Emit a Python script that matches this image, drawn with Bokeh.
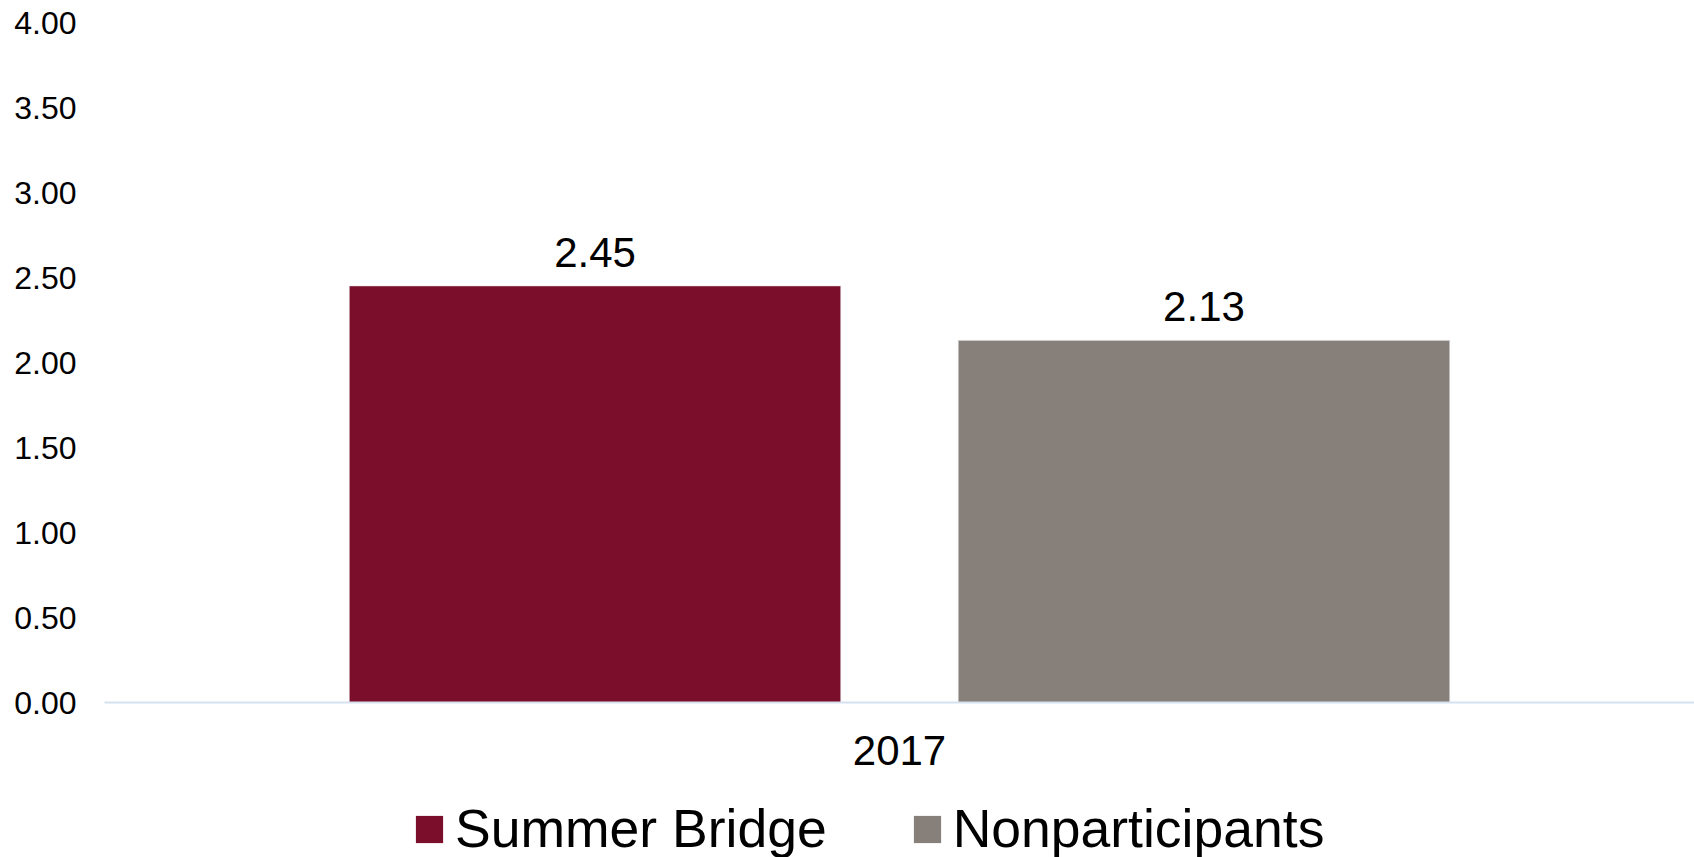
from bokeh.plotting import figure
from bokeh.layouts import column
from bokeh.models import ColumnDataSource, FactorRange, Range1d, FixedTicker, NumeralTickFormatter, Legend, LegendItem
from bokeh.transform import dodge
from bokeh.core.properties import value
from bokeh.embed import file_html
from bokeh.resources import INLINE

categories = ["2017"]
series_names = ["Summer Bridge", "Nonparticipants"]
summer_bridge = [2.45]
nonparticipants = [2.13]
y_ticks = [0.0, 0.5, 1.0, 1.5, 2.0, 2.5, 3.0, 3.5, 4.0]

colors = ["#7A0E2B", "#877F7A"]
FONT = "Liberation Sans"

src_sb = ColumnDataSource(dict(x=categories, y=summer_bridge, lab=[f"{v:.2f}" for v in summer_bridge]))
src_np = ColumnDataSource(dict(x=categories, y=nonparticipants, lab=[f"{v:.2f}" for v in nonparticipants]))

p = figure(width=1694, height=785, x_range=FactorRange(*categories), y_range=Range1d(0, 4),
           output_backend="svg", toolbar_location=None,
           min_border_left=104, min_border_top=22, min_border_right=0, min_border_bottom=83)
p.outline_line_color = None
p.xgrid.visible = False
p.ygrid.visible = False

off = 0.1915
bw = 0.309
r1 = p.vbar(x=dodge("x", -off, range=p.x_range), top="y", width=bw, source=src_sb,
            fill_color=colors[0], line_color="#d8d8d8", line_width=0.5)
r2 = p.vbar(x=dodge("x", off, range=p.x_range), top="y", width=bw, source=src_np,
            fill_color=colors[1], line_color="#d8d8d8", line_width=0.5)

for src, o in ((src_sb, -off), (src_np, off)):
    p.text(x=dodge("x", o, range=p.x_range), y="y", text="lab", source=src,
           text_align="center", text_baseline="alphabetic", y_offset=-34,
           text_font=value(FONT), text_font_size="42px", text_color="#000000")

# y axis
p.yaxis.ticker = FixedTicker(ticks=y_ticks)
p.yaxis.formatter = NumeralTickFormatter(format="0.00")
p.yaxis.axis_line_color = None
p.yaxis.major_tick_line_color = None
p.yaxis.minor_tick_line_color = None
p.yaxis.major_tick_out = 0
p.yaxis.major_label_standoff = 28
p.yaxis.major_label_text_font = FONT
p.yaxis.major_label_text_font_size = "32px"
p.yaxis.major_label_text_color = "#000000"

# x axis
p.xaxis.axis_line_color = "#D6E1F0"
p.xaxis.axis_line_width = 2
p.xaxis.major_tick_line_color = None
p.xaxis.minor_tick_line_color = None
p.xaxis.major_tick_out = 0
p.xaxis.major_label_standoff = 33
p.xaxis.major_label_text_font = FONT
p.xaxis.major_label_text_font_size = "42px"
p.xaxis.major_label_text_color = "#000000"

# legend strip (same series; its view range keeps the bars out of sight)
lf = figure(width=1694, height=72, x_range=FactorRange(*categories), y_range=Range1d(10, 11),
            output_backend="svg", toolbar_location=None,
            min_border_left=0, min_border_right=0, min_border_top=0, min_border_bottom=0)
lf.axis.visible = False
lf.grid.visible = False
lf.outline_line_color = None
l1 = lf.vbar(x="x", top="y", width=bw, source=src_sb, fill_color=colors[0], line_color=None)
l2 = lf.vbar(x="x", top="y", width=bw, source=src_np, fill_color=colors[1], line_color=None)

legend = Legend(items=[LegendItem(label=series_names[0], renderers=[l1]),
                       LegendItem(label=series_names[1], renderers=[l2])],
                orientation="horizontal", location=(308, -2),
                glyph_width=34, glyph_height=34, label_standoff=9, spacing=83,
                label_text_font=FONT, label_text_font_size="53.5px", label_text_color="#000000",
                border_line_color=None, background_fill_alpha=0, margin=0, padding=0)
lf.add_layout(legend, "center")

open("out.html", "w").write(file_html(column(p, lf, spacing=0), INLINE))
